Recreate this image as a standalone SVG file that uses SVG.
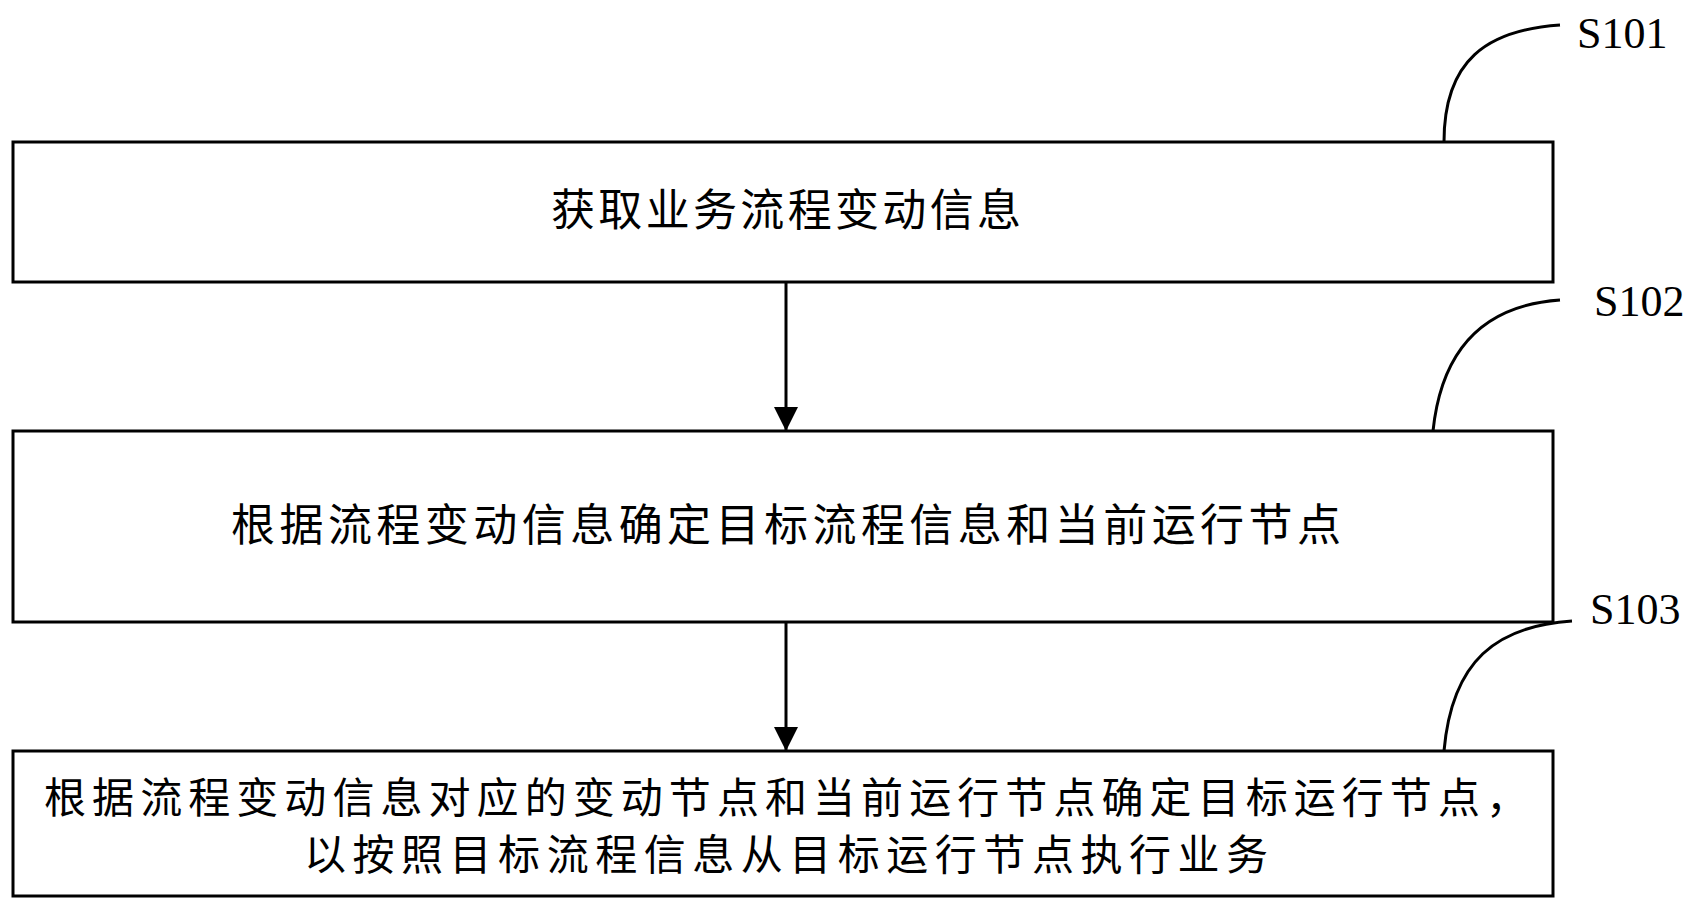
<svg xmlns="http://www.w3.org/2000/svg" width="1699" height="905" viewBox="0 0 1699 905">
<style>
.box{fill:#fff;stroke:#000;stroke-width:3}
.t{font-family:"Noto Sans CJK SC","Liberation Serif",sans-serif;font-size:44px;fill:#000;text-anchor:middle}
.s{font-size:42px}
.lbl{font-family:"Liberation Serif",serif;font-size:44px;fill:#000}
.c{fill:none;stroke:#000;stroke-width:3}
</style>
<defs>
<marker id="ah" viewBox="0 0 10 10" refX="10" refY="5" markerWidth="26" markerHeight="24" orient="auto" markerUnits="userSpaceOnUse"><path d="M0,0 L10,5 L0,10 Z"/></marker></defs>
<g id="n1"><rect class="box" x="13" y="142" width="1540" height="140"/><text class="t" x="786" y="226" textLength="470" lengthAdjust="spacing">获取业务流程变动信息</text></g>
<g id="n2"><rect class="box" x="13" y="431" width="1540" height="191"/><text class="t" x="786" y="541" textLength="1110" lengthAdjust="spacing">根据流程变动信息确定目标流程信息和当前运行节点</text></g>
<g id="n3"><rect class="box" x="13" y="751" width="1540" height="145"/><text class="t s" x="786" y="813" textLength="1484" lengthAdjust="spacing">根据流程变动信息对应的变动节点和当前运行节点确定目标运行节点，</text><text class="t s" x="786" y="870" textLength="964" lengthAdjust="spacing">以按照目标流程信息从目标运行节点执行业务</text></g>
<g id="connectors">
<line class="c" x1="786" y1="282" x2="786" y2="431" marker-end="url(#ah)"/>
<line class="c" x1="786" y1="622" x2="786" y2="751" marker-end="url(#ah)"/>
<path class="c" d="M1444,142 C1444,60 1487,30 1560,25"/>
<path class="c" d="M1433,431 C1442,345 1487,305 1560,300"/>
<path class="c" d="M1444,751 C1452,660 1497,626 1572,621"/>
</g>
<text class="lbl" x="1577" y="48">S101</text>
<text class="lbl" x="1594" y="316">S102</text>
<text class="lbl" x="1590" y="624">S103</text>
</svg>
